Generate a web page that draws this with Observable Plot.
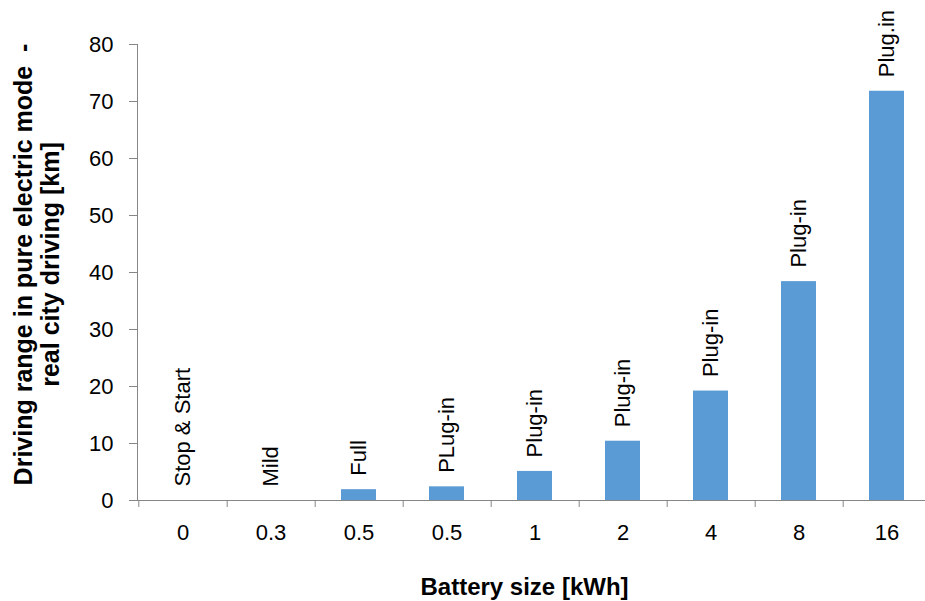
<!DOCTYPE html>
<html>
<head>
<meta charset="utf-8">
<script src="https://cdn.jsdelivr.net/npm/d3@7"></script>
<script src="https://cdn.jsdelivr.net/npm/@observablehq/plot@0.6"></script>
<style>
  html, body { margin: 0; padding: 0; background: #fff; }
  #chart { width: 925px; height: 601px; overflow: hidden; }
</style>
</head>
<body>
<div id="chart"></div>
<script>
const batterySizes = ["0", "0.3", "0.5", "0.5", "1", "2", "4", "8", "16"];
const hybridTypes = ["Stop & Start", "Mild", "Full", "PLug-in", "Plug-in", "Plug-in", "Plug-in", "Plug-in", "Plug.in"];
const rangeKm = [0, 0, 1.9, 2.4, 5.1, 10.4, 19.2, 38.4, 71.8];
const yTicks = [0, 10, 20, 30, 40, 50, 60, 70, 80];
const xTitle = "Battery size [kWh]";
const yTitle = "Driving range in pure electric mode\u00a0 -\nreal city driving [km]";

const data = batterySizes.map((b, i) => ({i, battery: b, type: hybridTypes[i], range: rangeKm[i]}));

const x0 = 137.3, x1 = 932.7;
const step = (x1 - x0) / batterySizes.length;
const axisGray = "#868686";

const chart = Plot.plot({
  width: 925,
  height: 601,
  marginTop: 44,
  marginBottom: 101,
  marginLeft: 137,
  marginRight: 0,
  style: {fontFamily: "'Liberation Sans', Arial, sans-serif", fontSize: "22px", color: "#000", background: "#fff", overflow: "visible"},
  x: {domain: data.map(d => d.i), range: [x0, x1], paddingInner: 0.6, paddingOuter: 0.3, label: null},
  y: {domain: [0, 80], label: null},
  marks: [
    Plot.barY(data, {x: "i", y: "range", fill: "#5B9BD5"}),
    Plot.frame({anchor: "left", stroke: axisGray}),
    Plot.ruleY([0], {stroke: axisGray}),
    Plot.axisY({ticks: yTicks, tickSize: 8, tickPadding: 16, stroke: axisGray, fill: "#000", label: null}),
    Plot.axisX({tickSize: 0, tickPadding: 24, tickFormat: i => batterySizes[i], fill: "#000", label: null}),
    Plot.axisX({tickSize: 7, stroke: axisGray, fill: "none", dx: step / 2, label: null}),
    Plot.axisX({ticks: [0], tickSize: 7, stroke: axisGray, fill: "none", dx: -step / 2, label: null}),
    Plot.text(data, {x: "i", y: "range", text: "type", rotate: -90, textAnchor: "start", lineAnchor: "middle", dy: -14, fill: "#000"}),
    Plot.text([xTitle], {frameAnchor: "bottom", dy: 87, dx: -7, lineAnchor: "middle", fontWeight: "bold", fontSize: 24, fill: "#000"}),
    Plot.text([yTitle], {frameAnchor: "left", rotate: -90, textAnchor: "middle", dx: -101, dy: -8, lineAnchor: "middle", lineHeight: 1.08, fontWeight: "bold", fontSize: 25, fill: "#000"})
  ]
});
document.getElementById("chart").append(chart);
</script>
</body>
</html>
